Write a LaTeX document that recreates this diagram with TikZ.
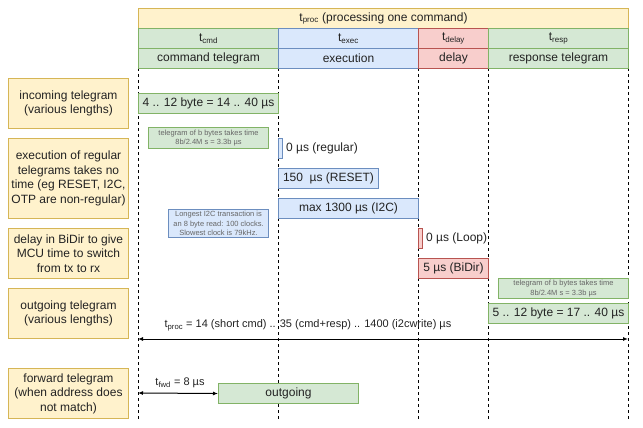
\documentclass[tikz,border=0pt]{standalone}
\usepackage{fontspec}
\setmainfont{Liberation Sans}
\usetikzlibrary{arrows.meta}
\definecolor{yfill}{HTML}{FFF2CC}
\definecolor{ydraw}{HTML}{D6B656}
\definecolor{gfill}{HTML}{D5E8D4}
\definecolor{gdraw}{HTML}{82B366}
\definecolor{bfill}{HTML}{DAE8FC}
\definecolor{bdraw}{HTML}{6C8EBF}
\definecolor{rfill}{HTML}{F8CECC}
\definecolor{rdraw}{HTML}{B85450}
\definecolor{notetext}{HTML}{666666}
\definecolor{txt}{HTML}{222222}
\tikzset{
  base/.style={draw, line width=1pt, inner sep=0pt, anchor=north west, align=center,
    text=txt, font=\fontsize{12}{14.5}\selectfont},
  yel/.style={base, fill=yfill, draw=ydraw},
  grn/.style={base, fill=gfill, draw=gdraw},
  blu/.style={base, fill=bfill, draw=bdraw},
  red/.style={base, fill=rfill, draw=rdraw},
  note/.style={font=\fontsize{7.5}{9.7}\selectfont, text=notetext},
  lbl/.style={inner sep=0pt, text=txt, font=\fontsize{12}{14.5}\selectfont},
  dimlbl/.style={inner sep=0pt, text=txt, font=\fontsize{11}{13}\selectfont},
  dashline/.style={line width=0.8pt, dash pattern=on 3pt off 3pt},
  dim/.style={line width=1pt, {Latex[length=5pt,width=4pt]}-{Latex[length=5pt,width=4pt]}},
}
\begin{document}
\begin{tikzpicture}[x=1pt,y=-1pt]
\useasboundingbox (0,0) rectangle (643,428);
% dashed time lines
\foreach \n/\x in {a/138,b/278,c/418,d/488,e/628}{
  \coordinate (\n t) at (\x,68);
  \coordinate (\n b) at (\x,420);
  \draw[dashline] (\n t) -- (\n b);
}
% header
\node[yel, minimum width=490, minimum height=20] (proc) at (138,8) {t\textsubscript{proc} (processing one command)};
\node[grn, minimum width=140, minimum height=20] (tcmd) at (138,28) {t\textsubscript{cmd}};
\node[blu, minimum width=140, minimum height=20] (texec) at (278,28) {t\textsubscript{exec}};
\node[red, minimum width=70, minimum height=20] (tdelay) at (418,28) {t\textsubscript{delay}};
\node[grn, minimum width=140, minimum height=20] (tresp) at (488,28) {t\textsubscript{resp}};
\node[grn, minimum width=140, minimum height=20] (hcmd) at (138,48) {command telegram};
\node[blu, minimum width=140, minimum height=20] (hexec) at (278,48) {execution};
\node[red, minimum width=70, minimum height=20] (hdelay) at (418,48) {delay};
\node[grn, minimum width=140, minimum height=20] (hresp) at (488,48) {response telegram};
% left descriptions
\node[yel, minimum width=120, minimum height=50] (l1) at (8,78) {incoming telegram\\(various lengths)};
\node[yel, minimum width=120, minimum height=80] (l2) at (8,138) {execution of regular\\telegrams takes no\\time (eg RESET, I2C,\\OTP are non-regular)};
\node[yel, minimum width=120, minimum height=50] (l3) at (8,228) {delay in BiDir to give\\MCU time to switch\\from tx to rx};
\node[yel, minimum width=120, minimum height=50] (l4) at (8,288) {outgoing telegram\\(various lengths)};
\node[yel, minimum width=120, minimum height=50] (l5) at (8,368) {forward telegram\\(when address does\\not match)};
% incoming
\node[grn, minimum width=140, minimum height=20] (in) at (138,93) {4 .. 12 byte = 14 .. 40 µs};
\node[grn, note, minimum width=120, minimum height=21] (n1) at (148,127) {telegram of b bytes takes time\\8b/2.4M s = 3.3b µs};
% execution
\node[blu, minimum width=4, minimum height=20] (e0) at (278,138) {};
\node[lbl, anchor=west] (e0t) at ([xshift=3pt]e0.east) {0 µs (regular)};
\node[blu, minimum width=100, minimum height=20] (e1) at (278,168) {150~ µs (RESET)};
\node[blu, minimum width=140, minimum height=20] (e2) at (278,198) {max 1300 µs (I2C)};
\node[blu, note, minimum width=100, minimum height=28] (n2) at (168,209) {Longest I2C transaction is\\an 8 byte read: 100 clocks.\\Slowest clock is 79kHz.};
% delay
\node[red, minimum width=4, minimum height=20] (d0) at (418,228) {};
\node[lbl, anchor=west] (d0t) at ([xshift=3pt]d0.east) {0 µs (Loop)};
\node[red, minimum width=70, minimum height=20] (d1) at (418,258) {5 µs (BiDir)};
% response
\node[grn, note, minimum width=130, minimum height=20] (n3) at (498,278) {telegram of b bytes takes time\\8b/2.4M s = 3.3b µs};
\node[grn, minimum width=140, minimum height=20] (out1) at (488,303) {5 .. 12 byte = 17 .. 40 µs};
% tproc dimension
\coordinate (pA) at (138,339);
\coordinate (pB) at (628,339);
\draw[dim] (pA) -- (pB);
\node[dimlbl] (plbl) at (308,325) {t\textsubscript{proc} = 14 (short cmd) .. 35 (cmd+resp) .. 1400 (i2cwrite) µs};
% forward
\node[grn, minimum width=140, minimum height=20] (fout) at (218,383) {outgoing};
\coordinate (fA) at (138,393);
\draw[dim] (fA) -- (fout.west);
\node[dimlbl] (flbl) at (180,383) {t\textsubscript{fwd} = 8 µs};
\end{tikzpicture}
\end{document}
